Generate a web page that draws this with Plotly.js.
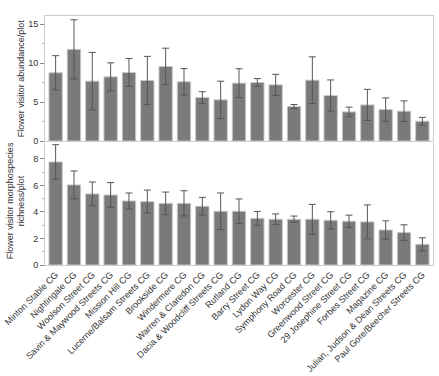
<!DOCTYPE html>
<html>
<head>
<meta charset="utf-8">
<script src="https://cdn.plot.ly/plotly-3.0.1.min.js"></script>
<style>html,body{margin:0;padding:0;background:#fff}#chart{width:439px;height:376px}</style>
</head>
<body>
<div id="chart"></div>
<script>
const sites = ["Minton Stable CG","Nightingale CG","Woolson Street CG","Savin & Maywood Streets CG","Mission Hill CG","Lucerne/Balsam Streets CG","Brookside CG","Windermere CG","Warren & Claredon CG","Dacia & Woodcliff Streets CG","Rutland CG","Barry Street CG","Lydon Way CG","Symphony Road CG","Worcester CG","Greenwood Street CG","29 Josephine Street CG","Forbes Street CG","Magazine CG","Julian, Judson & Dean Streets CG","Paul Gore/Beecher Streets CG"];
const abundance = [8.77,11.78,7.69,8.25,8.81,7.78,9.58,7.61,5.59,5.29,7.44,7.52,7.22,4.43,7.82,5.85,3.74,4.64,4.04,3.83,2.54];
const abundanceSE = [2.2,3.8,3.7,1.8,1.8,3.1,2.35,1.7,0.75,2.4,1.85,0.5,1.35,0.26,3.0,2.0,0.62,2.0,1.5,1.33,0.5];
const richness = [7.77,6.04,5.36,5.28,4.83,4.78,4.65,4.65,4.43,4.05,4.05,3.52,3.45,3.45,3.45,3.37,3.30,3.25,2.64,2.44,1.56];
const richnessSE = [1.3,1.05,0.9,0.93,0.6,0.87,0.85,0.95,0.67,1.38,0.93,0.52,0.4,0.24,1.12,0.65,0.46,1.28,0.69,0.59,0.49];

const barStyle = {color:'#7a7a7a', line:{color:'#c9c9c9', width:1}};
const errStyle = (arr) => ({type:'data', array:arr, visible:true, color:'#555555', thickness:1, width:3.5});

const traces = [
  {type:'bar', x:sites, y:abundance, xaxis:'x', yaxis:'y', marker:barStyle, error_y:errStyle(abundanceSE), hoverinfo:'skip'},
  {type:'bar', x:sites, y:richness, xaxis:'x2', yaxis:'y2', marker:barStyle, error_y:errStyle(richnessSE), hoverinfo:'skip'}
];

const font = {family:'"Liberation Sans", Arial, sans-serif', size:9, color:'#333'};
const yCommon = {
  showgrid:false, zeroline:false, showline:true, mirror:true, linecolor:'#cccccc', linewidth:1,
  ticks:'outside', ticklen:4, tickcolor:'#888', tickwidth:1,
  tickfont:{family:font.family, size:9, color:'#333'},
  minor:{ticks:'outside', ticklen:2, tickcolor:'#aaa'}
};
const layout = {
  width:439, height:376,
  margin:{l:45, r:6, t:16, b:111},
  paper_bgcolor:'#fff', plot_bgcolor:'#fff',
  font:font, showlegend:false, bargap:0.27,
  xaxis:{domain:[0,1], anchor:'y', range:[-0.58,20.58], showticklabels:false, ticks:'', showgrid:false, zeroline:false, showline:true, mirror:true, linecolor:'#cccccc'},
  yaxis:Object.assign({}, yCommon, {domain:[0.498,1], anchor:'x', range:[0,16.07], tickvals:[0,5,10,15], minor:{ticks:'outside', ticklen:2, tickcolor:'#aaa', tickvals:[2.5,7.5,12.5]}}),
  xaxis2:{domain:[0,1], anchor:'y2', range:[-0.58,20.58], tickangle:-45, ticks:'', showgrid:false, zeroline:false, showline:true, mirror:false, linecolor:'#cccccc', tickfont:{family:font.family, size:9, color:'#333'}},
  yaxis2:Object.assign({}, yCommon, {domain:[0,0.49], anchor:'x2', range:[0,9.2], tickvals:[0,2,4,6,8], minor:{ticks:'outside', ticklen:2, tickcolor:'#aaa', tickvals:[1,3,5,7]}}),
  annotations:[
    {text:'Flower visitor abundance/plot', xref:'paper', yref:'paper', x:-0.062, y:0.75, xanchor:'center', yanchor:'middle', textangle:-90, showarrow:false, font:{family:font.family, size:9, color:'#333'}},
    {text:'Flower visitor morphospecies<br>richness/plot', xref:'paper', yref:'paper', x:-0.075, y:0.26, xanchor:'center', yanchor:'middle', textangle:-90, showarrow:false, font:{family:font.family, size:9, color:'#333'}}
  ]
};
Plotly.newPlot('chart', traces, layout, {staticPlot:true, displayModeBar:false});
</script>
</body>
</html>
